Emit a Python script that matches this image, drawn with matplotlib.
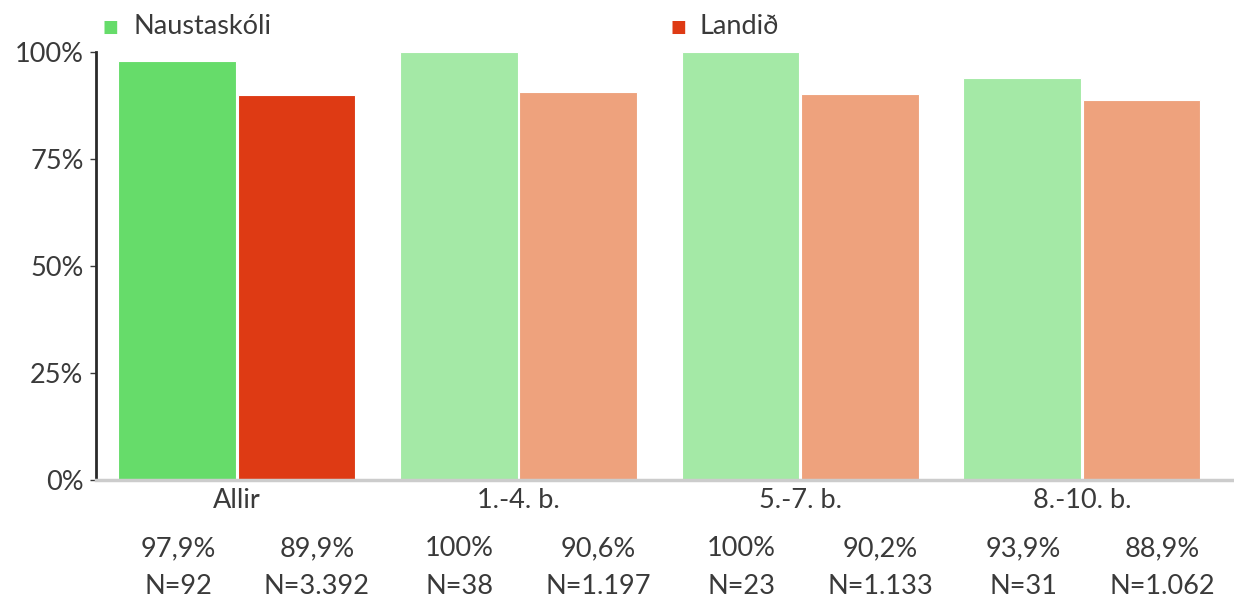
import numpy as np
import matplotlib.pyplot as plt

# gögn
flokkar = ["Allir", "1.-4. b.", "5.-7. b.", "8.-10. b."]
skoli = [97.9, 100, 100, 93.9]
landid = [89.9, 90.6, 90.2, 88.9]
skoli_txt = ["97,9%", "100%", "100%", "93,9%"]
landid_txt = ["89,9%", "90,6%", "90,2%", "88,9%"]
skoli_n = ["N=92", "N=38", "N=23", "N=31"]
landid_n = ["N=3.392", "N=1.197", "N=1.133", "N=1.062"]

GRAENN = "#66dc6a"
RAUDUR = "#de3a14"
GRAENN_L = "#a4e9a6"
RAUDUR_L = "#eea27d"
TEXTI = "#3a3a3a"
FS = 19.5

plt.rcParams["font.family"] = ["Lato", "DejaVu Sans"]

fig = plt.figure(figsize=(12.34, 6.01), dpi=100)
ax = fig.add_axes([96 / 1234, 1 - 480 / 601, 1 - 96 / 1234, 428 / 601])

x = np.arange(len(flokkar))
b = 0.418
for i in x:
    gl = GRAENN if i == 0 else GRAENN_L
    rl = RAUDUR if i == 0 else RAUDUR_L
    ax.bar(i - b / 2 - 0.003, skoli[i], width=b, color=gl, edgecolor="white", linewidth=0.8)
    ax.bar(i + b / 2 + 0.003, landid[i], width=b, color=rl, edgecolor="white", linewidth=0.8)

ax.set_xlim(-0.5, 3.54)
ax.set_ylim(0, 100)
ax.set_yticks([0, 25, 50, 75, 100])
ax.set_yticklabels(["0%", "25%", "50%", "75%", "100%"])
ax.set_xticks([])
ax.tick_params(axis="y", labelsize=FS, labelcolor=TEXTI, color=TEXTI, length=4, width=1, pad=5)

for s in ["top", "right"]:
    ax.spines[s].set_visible(False)
ax.spines["left"].set_color("#2a2a2a")
ax.spines["left"].set_linewidth(2)
ax.spines["bottom"].set_color("#cccccc")
ax.spines["bottom"].set_linewidth(2.5)

tr = ax.get_xaxis_transform()
for i in x:
    ax.text(i, -0.048, flokkar[i], transform=tr, ha="center", va="center", fontsize=FS, color=TEXTI)
    ax.text(i - b / 2, -0.16, skoli_txt[i], transform=tr, ha="center", va="center", fontsize=FS, color=TEXTI)
    ax.text(i + b / 2 + 0.075, -0.16, landid_txt[i], transform=tr, ha="center", va="center", fontsize=FS, color=TEXTI)
    ax.text(i - b / 2, -0.248, skoli_n[i], transform=tr, ha="center", va="center", fontsize=FS, color=TEXTI)
    ax.text(i + b / 2 + 0.075, -0.248, landid_n[i], transform=tr, ha="center", va="center", fontsize=FS, color=TEXTI)

# skýringar efst
fig.text(110 / 1234, 1 - 27 / 601, "■", color=GRAENN, fontsize=12, ha="center", va="center", family="DejaVu Sans")
fig.text(133 / 1234, 1 - 26 / 601, "Naustaskóli", color=TEXTI, fontsize=FS, ha="left", va="center")
fig.text(678 / 1234, 1 - 27 / 601, "■", color=RAUDUR, fontsize=12, ha="center", va="center", family="DejaVu Sans")
fig.text(700 / 1234, 1 - 26 / 601, "Landið", color=TEXTI, fontsize=FS, ha="left", va="center")

fig.savefig("out.png", dpi=100)
